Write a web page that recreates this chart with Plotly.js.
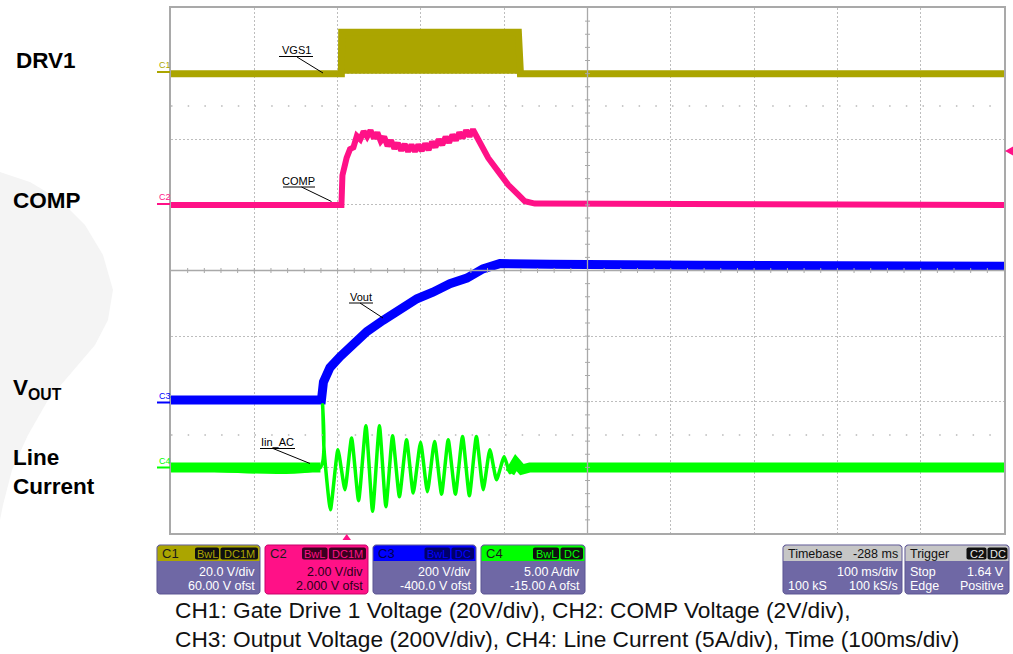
<!DOCTYPE html>
<html><head><meta charset="utf-8">
<script src="https://cdn.plot.ly/plotly-3.0.1.min.js"></script>
<style>html,body{margin:0;padding:0;background:#fff;}#chart{width:1013px;height:654px;}</style>
</head><body><div id="chart"></div>
<script>
// ---------------- DATA (time in ms across the 10-division screen) ----------------
const c1_time  = [0, 204.5, 204.9, 417.0, 419.5, 1000];
const c1_volts = [0, 0, 12.6, 12.6, 0, 0];

const c2_time  = [0, 204.6, 205.8, 206.8, 210.8, 214.9, 219.0, 223.1, 227.2, 231.3, 235.4, 239.5, 243.6, 247.7, 251.8, 255.9, 260.0, 264.1, 268.2, 272.3, 276.4, 280.5, 284.6, 288.7, 292.8, 296.9, 301.0, 305.1, 309.2, 313.3, 317.4, 321.5, 325.6, 329.7, 333.8, 337.9, 342.0, 346.1, 350.2, 354.3, 358.4, 362.5, 366.6, 370.8, 380.8, 392.8, 404.8, 416.8, 424.8, 436.8, 1000];
const c2_volts = [0, 0, 0.9, 1.02, 1.43, 1.70, 1.75, 2.10, 2.00, 2.24, 2.08, 2.27, 2.03, 2.20, 1.94, 2.07, 1.80, 1.96, 1.72, 1.88, 1.66, 1.85, 1.63, 1.83, 1.63, 1.83, 1.65, 1.86, 1.68, 1.92, 1.76, 1.99, 1.83, 2.07, 1.90, 2.13, 1.97, 2.20, 2.04, 2.27, 2.09, 2.29, 2.10, 1.83, 1.43, 1.02, 0.61, 0.31, 0.11, 0.04, 0];

const c3_time  = [0, 180.6, 183, 186, 190.8, 202.8, 214.8, 235.2, 254.4, 274.8, 295.2, 314.4, 334.8, 355.2, 374.4, 394.8, 415.2, 454.8, 634.8, 1000];
const c3_volts = [5, 5, 60, 83, 104, 137, 169, 214, 248, 284, 314, 334, 360, 377, 405, 421, 422, 419, 416, 413];

const c4_time = [0, 179.4, 182.0, 183.6, 191.4, 200.4, 208.8, 216.8, 225.2, 234, 242, 250.2, 258, 266, 274.2, 282.8, 290.8, 299.6, 307.8, 316.4, 324.8, 332.8, 341.4, 350, 358.2, 366.6, 374.8, 382.8, 390.8, 400, 406.8, 414, 421.2, 430.8, 1000];
const c4_amps = [0, 0, 4.78, 1.5, -3.22, 1.35, -1.7, 2.24, -2.54, 3.18, -3.35, 3.18, -3.0, 2.41, -2.23, 2.11, -1.95, 1.92, -1.85, 1.98, -2.04, 2.11, -2.04, 2.36, -2.16, 2.36, -1.70, 1.35, -0.94, 0.81, -0.41, 0.36, -0.17, 0, 0];

const channelNames = ["C1", "C2", "C3", "C4"];
const voltsPerDiv  = ["20.0 V/div", "2.00 V/div", "200 V/div", "5.00 A/div"];
const offsets      = ["60.00 V ofst", "2.000 V ofst", "-400.0 V ofst", "-15.00 A ofst"];
const couplings    = ["DC1M", "DC1M", "DC", "DC"];
const traceLabels  = ["VGS1", "COMP", "Vout", "Iin_AC"];
const captionLines = ["CH1: Gate Drive 1 Voltage (20V/div), CH2: COMP Voltage (2V/div),",
                      "CH3: Output Voltage (200V/div), CH4: Line Current (5A/div), Time (100ms/div)"];

// ---------------- STYLE ----------------
const COL = ["#aba500", "#ff1187", "#0000ff", "#00ff00"];
const FONT = "Liberation Sans, Arial, sans-serif";
const L = 171, R = 1004, T = 8, B = 533;
const P = x => (x - L) / (R - L);
const Q = y => (B - y) / (B - T);

const postStart = 30;
const traces = [
  {x: c1_time, y: c1_volts, yaxis: "y", mode: "lines", fill: "tozeroy", fillcolor: COL[0],
   line: {color: COL[0], width: 7}, hoverinfo: "skip"},
  {x: c2_time, y: c2_volts, yaxis: "y2", mode: "lines", line: {color: COL[1], width: 6}, hoverinfo: "skip"},
  {x: c3_time, y: c3_volts, yaxis: "y3", mode: "lines", line: {color: COL[2], width: 9}, hoverinfo: "skip"},
  {x: c4_time, y: c4_amps, yaxis: "y4", mode: "lines", line: {color: COL[3], width: 3.5, shape: "spline", smoothing: 0.5}, hoverinfo: "skip"},
  {x: [c4_time[0], c4_time[1], null].concat(c4_time.slice(postStart)),
   y: [c4_amps[0], c4_amps[1], null].concat(c4_amps.slice(postStart)), yaxis: "y4", mode: "lines",
   line: {color: COL[3], width: 10}, hoverinfo: "skip"}
];

const shapes = [];
const ann = [];
function line(x0, y0, x1, y1, color, width, dash) {
  shapes.push({type: "line", xref: "paper", yref: "paper", x0: P(x0), y0: Q(y0), x1: P(x1), y1: Q(y1),
    line: {color: color, width: width, dash: dash || "solid"}, layer: "above"});
}
function pathPx(pts, fill, lc, layer) {
  let s = "";
  pts.forEach((p, i) => { s += (i ? " L " : "M ") + P(p[0]).toFixed(5) + "," + Q(p[1]).toFixed(5); });
  shapes.push({type: "path", xref: "paper", yref: "paper", path: s + " Z", fillcolor: fill,
    line: {color: lc || fill, width: lc ? 1 : 0}, layer: layer || "above"});
}
function rrect(x0, y0, x1, y1, r, fill, lc, topOnly) {
  const pts = [];
  const arc = (cx, cy, a0) => { for (let k = 0; k <= 4; k++) { const a = (a0 + k * 22.5) * Math.PI / 180; pts.push([cx + r * Math.cos(a), cy + r * Math.sin(a)]); } };
  arc(x0 + r, y0 + r, 180);
  arc(x1 - r, y0 + r, 270);
  if (topOnly) { pts.push([x1, y1]); pts.push([x0, y1]); }
  else { arc(x1 - r, y1 - r, 0); arc(x0 + r, y1 - r, 90); }
  pathPx(pts, fill, lc);
}
function text(x, y, s, size, color, anchor, extra) {
  ann.push(Object.assign({xref: "paper", yref: "paper", x: P(x), y: Q(y), text: s, showarrow: false,
    xanchor: anchor || "left", yanchor: "middle", align: "left", font: {family: FONT, size: size, color: color}}, extra || {}));
}

// faint watermark on the left
(function(){
  const pts = [[0,172],[30,182],[60,200],[85,225],[103,255],[113,290],[108,320],[95,345],[72,372],[48,400],[28,435],[12,470],[3,505],[0,520]];
  pathPx(pts, "#f4f4f4", null, "below");
})();

// center cross with minor ticks and the sparse dot rows
line(587.5, T, 587.5, B, "#a9a9a9", 1.3);
line(L, 270.5, R, 270.5, "#a9a9a9", 1.3);
for (let k = 1; k < 50; k++) { const x = L + k * (R - L) / 50; line(x, 268, x, 273, "#a9a9a9", 1); }
for (let k = 1; k < 40; k++) { const y = T + k * (B - T) / 40; line(585, y, 590, y, "#a9a9a9", 1); }
line(L, 106, R, 106, "#b8b8b8", 1.5, "1.5px,15.2px");
line(L, 435, R, 435, "#b8b8b8", 1.5, "1.5px,15.2px");

// channel ground markers on the left edge
const markerY = [72, 204, 402.5, 467.5];
markerY.forEach((y, i) => {
  line(157, y, 170, y, COL[i], 2);
  text(156.5, y - 7, channelNames[i], 9, COL[i], "left");
});

// trace labels inside the plot with underline and leader
const labelPos = [[296, 50, 279, 313, 297, 57, 323, 73], [298.5, 180.5, 283, 315, 301.5, 187, 331.5, 201.5],
                  [361, 296.5, 349, 373, 360, 303, 383, 318], [277.5, 442, 260, 295, 273, 448.5, 310, 463.5]];
labelPos.forEach((p, i) => {
  text(p[0], p[1], traceLabels[i], 11, "#000", "center");
  line(p[2], p[1] + 6.5, p[3], p[1] + 6.5, "#000", 1);
  line(p[4], p[5], p[6], p[7], "#000", 1);
});

// trigger markers
pathPx([[342.5, 540], [351, 540], [346.7, 534]], COL[1]);
pathPx([[1013, 146.5], [1013, 155.5], [1005, 151]], COL[1]);

// left big labels
const bold = {font: {family: FONT, size: 22.5, color: "#000", weight: "bold"}};
text(14, 60, "DRV1", 22.5, "#000", "left", bold);
text(11, 200, "COMP", 22.5, "#000", "left", bold);
text(11, 389, "V<sub>OUT</sub>", 22.5, "#000", "left", bold);
text(11, 472, "Line<br>Current", 22.5, "#000", "left", bold);

// channel descriptor boxes
const boxX = [[157, 260], [265, 368], [373, 476], [481, 585]];
const badgeW = [[24, 37.5], [25.5, 37], [25.5, 22.5], [26, 22.5]];
const BODY = "#6f68a5", BORDER = "#5b5592";
boxX.forEach((bx, i) => {
  const sel = (i === 1);
  rrect(bx[0], 545, bx[1], 594, 3, sel ? COL[1] : BODY, sel ? "#c8006a" : BORDER);
  if (!sel) rrect(bx[0] + 0.5, 545.5, bx[1] - 0.5, 561, 3, COL[i], null, true);
  text(bx[0] + 3, 553.5, channelNames[i], 13, i === 2 ? "#000050" : "#1a1a1a", "left");
  const dW = badgeW[i][1], bW = badgeW[i][0];
  const bg = i === 1 ? "#3a0020" : (i === 2 ? "#00006a" : "#101010");
  const dx1 = bx[1] - 2, dx0 = dx1 - dW, bx1 = dx0 - 1.5, bx0 = bx1 - bW;
  rrect(bx0, 547.5, bx1, 559.5, 2, bg);
  rrect(dx0, 547.5, dx1, 559.5, 2, bg);
  text((bx0 + bx1) / 2, 553.5, "BwL", 11, COL[i], "center");
  text((dx0 + dx1) / 2, 553.5, couplings[i], 11, COL[i], "center");
  const tc = sel ? "#2a0018" : "#ffffff";
  text(bx[1] - 3, 572, voltsPerDiv[i], 12.5, tc, "right");
  text(bx[1] - 3, 586, offsets[i], 12.5, tc, "right");
});

// timebase and trigger boxes
rrect(783, 545, 902, 594, 3, BODY, BORDER);
rrect(783.5, 545.5, 901.5, 561, 3, "#c6c6c6", null, true);
text(786, 553.5, "Timebase", 12.5, "#111", "left");
text(900, 553.5, "-288 ms", 12.5, "#111", "right");
text(900, 572, "100 ms/div", 12.5, "#fff", "right");
text(786, 586, "100 kS", 12.5, "#fff", "left");
text(900, 586, "100 kS/s", 12.5, "#fff", "right");

rrect(905, 545, 1009, 594, 3, BODY, BORDER);
rrect(905.5, 545.5, 1008.5, 561, 3, "#c6c6c6", null, true);
text(908, 553.5, "Trigger", 12.5, "#111", "left");
rrect(966.5, 547.5, 986.5, 559.5, 2, "#101010");
rrect(987.5, 547.5, 1007.5, 559.5, 2, "#101010");
text(976.5, 553.5, "C2", 11, "#e8e8e8", "center");
text(997.5, 553.5, "DC", 11, "#e8e8e8", "center");
text(908, 572, "Stop", 12.5, "#fff", "left");
text(1006, 572, "1.64 V", 12.5, "#fff", "right");
text(908, 586, "Edge", 12.5, "#fff", "left");
text(1006, 586, "Positive", 12.5, "#fff", "right");

// caption
text(173, 610, captionLines[0], 22.7, "#111", "left");
text(173, 639, captionLines[1], 22.7, "#111", "left");

const gridAxis = {showgrid: true, gridcolor: "#bdbdbd", griddash: "2px,2px", gridwidth: 1,
  showticklabels: false, ticks: "", zeroline: false, showline: true, mirror: true,
  linecolor: "#a9a9a9", linewidth: 2, fixedrange: true};
const hiddenAxis = {overlaying: "y", visible: false, showgrid: false, zeroline: false, fixedrange: true};

const layout = {
  width: 1013, height: 654,
  margin: {l: L, r: 1013 - R, t: T, b: 654 - B},
  paper_bgcolor: "#ffffff", plot_bgcolor: "#ffffff",
  showlegend: false,
  xaxis: Object.assign({range: [0, 1000], tick0: 0, dtick: 100}, gridAxis),
  yaxis: Object.assign({range: [-140, 20], tick0: -140, dtick: 20}, gridAxis),
  yaxis2: Object.assign({range: [-10, 6]}, hiddenAxis),
  yaxis3: Object.assign({range: [-400, 1200]}, hiddenAxis),
  yaxis4: Object.assign({range: [-5, 35]}, hiddenAxis),
  shapes: shapes, annotations: ann
};
Plotly.newPlot("chart", traces, layout, {displayModeBar: false, staticPlot: true});
</script></body></html>
